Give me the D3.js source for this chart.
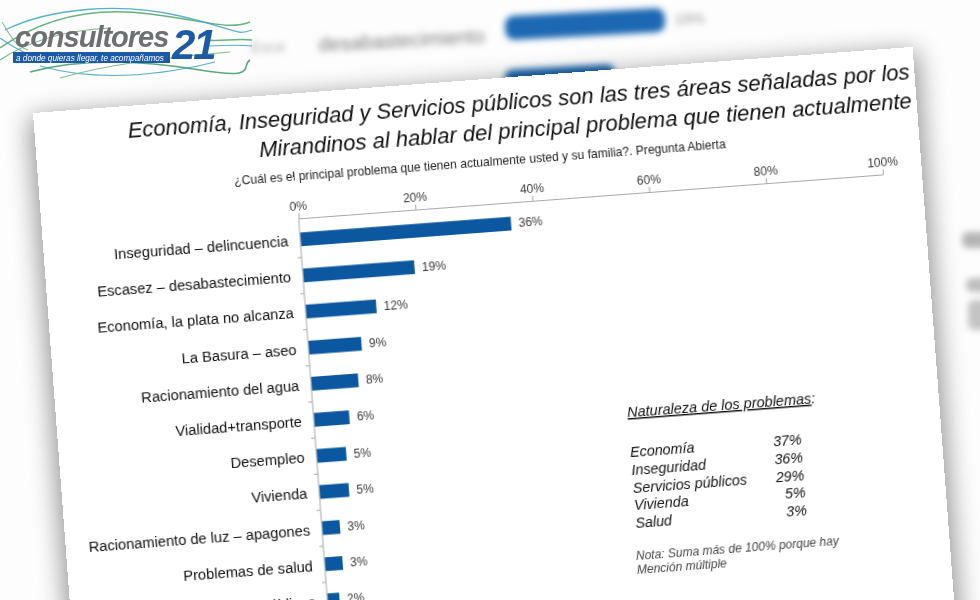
<!DOCTYPE html>
<html><head><meta charset="utf-8">
<script src="https://cdn.jsdelivr.net/npm/d3@7"></script>
<style>
body{margin:0;background:#fff}
svg{display:block}
text{font-family:"Liberation Sans",Arial,Helvetica,sans-serif}
</style></head>
<body><div id="chart"></div>
<script>
// ---------- DATA ----------
const categories = [
  "Inseguridad – delincuencia",
  "Escasez – desabastecimiento",
  "Economía, la plata no alcanza",
  "La Basura – aseo",
  "Racionamiento del agua",
  "Vialidad+transporte",
  "Desempleo",
  "Vivienda",
  "Racionamiento de luz – apagones",
  "Problemas de salud",
  "Otros servicios públicos"
];
const values = [36, 19, 12, 9, 8, 6, 5, 5, 3, 3, 2];
const xTicks = [0, 20, 40, 60, 80, 100];
const summaryLabels = ["Economía", "Inseguridad", "Servicios públicos", "Vivienda", "Salud"];
const summaryValues = [37, 36, 29, 5, 3];
const titleLines = [
  "Economía, Inseguridad y Servicios públicos son las tres áreas señaladas por los",
  "Mirandinos al hablar del principal problema que tienen actualmente"
];
const subtitle = "¿Cuál es el principal problema que tienen actualmente usted y su familia?. Pregunta Abierta";
const summaryTitle = "Naturaleza de los problemas";
const noteLines = ["Nota: Suma más de 100% porque hay", "Mención múltiple"];

// ---------- SETUP ----------
const W = 980, H = 600;
const svg = d3.select("#chart").append("svg").attr("width", W).attr("height", H);
const defs = svg.append("defs");
defs.append("filter").attr("id", "bgblur")
  .attr("x", "-30%").attr("y", "-80%").attr("width", "160%").attr("height", "260%")
  .append("feGaussianBlur").attr("stdDeviation", 3.2);
defs.append("filter").attr("id", "shadow")
  .attr("x", "-20%").attr("y", "-20%").attr("width", "140%").attr("height", "140%")
  .append("feGaussianBlur").attr("stdDeviation", 13);

svg.append("rect").attr("width", W).attr("height", H).attr("fill", "#fdfdfd");

// ---------- blurred background (enlarged slide behind) ----------
const bg = svg.append("g").attr("filter", "url(#bgblur)");
bg.append("rect").attr("transform", "translate(585,24) rotate(-3)")
  .attr("x", -80).attr("y", -12).attr("width", 160).attr("height", 24).attr("rx", 9)
  .attr("fill", "#1a67b2");
bg.append("rect").attr("transform", "translate(560,78) rotate(-3)")
  .attr("x", -55).attr("y", -11).attr("width", 110).attr("height", 22).attr("rx", 8)
  .attr("fill", "#1a67b2");
bg.append("text").attr("transform", "translate(402,47) rotate(-3)")
  .attr("text-anchor", "middle").attr("font-size", 20).attr("fill", "#7e7e7e")
  .text("desabastecimiento");
bg.append("text").attr("transform", "translate(690,24) rotate(-3)")
  .attr("text-anchor", "middle").attr("font-size", 15).attr("fill", "#999")
  .text("19%");
bg.append("text").attr("transform", "translate(268,52) rotate(-3)")
  .attr("text-anchor", "middle").attr("font-size", 15).attr("fill", "#b0b0b0")
  .text("Esca");
bg.append("rect").attr("x", 962).attr("y", 232).attr("width", 30).attr("height", 16).attr("rx", 6).attr("fill", "#b5b5b5");
bg.append("rect").attr("x", 966).attr("y", 278).attr("width", 30).attr("height", 14).attr("rx", 6).attr("fill", "#bdbdbd");
bg.append("rect").attr("x", 968).attr("y", 300).attr("width", 30).attr("height", 30).attr("rx", 6).attr("fill", "#c4c4c4");

// ---------- logo ----------
const logo = svg.append("g");
const swirls = [
  ["M0,48 C40,20 90,6 150,14 S230,30 250,22", "#4da46a", 1.5],
  ["M5,30 C50,8 120,2 180,16 S235,36 252,30", "#3aa3c6", 1.3],
  ["M0,60 C30,40 70,30 110,28", "#5fae70", 1.2],
  ["M0,38 C20,52 40,62 70,62", "#3aa3c6", 1.1],
  ["M30,72 C80,58 140,60 200,70 S240,66 250,60", "#3d9a62", 1.6],
  ["M40,66 C90,80 150,78 215,62", "#3aa3c6", 1.2],
  ["M60,78 C110,64 160,58 230,52", "#6cb37c", 1.1],
  ["M205,40 C220,42 235,38 252,40", "#4da46a", 1.3],
  ["M205,46 C222,46 236,44 252,46", "#3aa3c6", 1.1],
  ["M2,22 C10,35 14,45 28,50", "#6cb37c", 1.1]
];
logo.selectAll("path.sw").data(swirls).join("path")
  .attr("d", d => d[0]).attr("fill", "none").attr("stroke", d => d[1])
  .attr("stroke-width", d => d[2]).attr("opacity", 0.85);
logo.append("rect").attr("x", 13).attr("y", 52).attr("width", 157).attr("height", 11).attr("fill", "#1d5aa6");
logo.append("text").attr("x", 16).attr("y", 60.5).attr("font-size", 8.2).attr("font-style", "italic")
  .attr("fill", "#fff").text("a donde quieras llegar, te acompañamos");
logo.append("text").attr("x", 15).attr("y", 47).attr("font-size", 29).attr("font-weight", "bold")
  .attr("font-style", "italic").attr("fill", "#6e6f72").attr("letter-spacing", -1).text("consultores");
logo.append("text").attr("x", 172).attr("y", 59).attr("font-size", 42).attr("font-weight", "bold")
  .attr("font-style", "italic").attr("fill", "#1d5aa6").attr("letter-spacing", -2).text("21");

// ---------- rotated slide ----------
const slide = svg.append("g").attr("transform", "translate(33,113) rotate(-4.3)");
slide.append("rect").attr("x", -4).attr("y", 4).attr("width", 890).attr("height", 700)
  .attr("fill", "#000").attr("opacity", 0.42).attr("filter", "url(#shadow)");
slide.append("rect").attr("x", 0).attr("y", 0).attr("width", 882).attr("height", 700)
  .attr("fill", "#fff");

// title
slide.selectAll("text.title").data(titleLines).join("text")
  .attr("class", "title")
  .attr("x", 877).attr("y", (d, i) => 32 + i * 29)
  .attr("text-anchor", "end").attr("font-size", 22).attr("font-style", "italic")
  .attr("fill", "#111").text(d => d);

slide.append("text").attr("x", 442).attr("y", 87).attr("text-anchor", "middle")
  .attr("font-size", 12.1).attr("fill", "#222").text(subtitle);

// scales
const x = d3.scaleLinear().domain([0, 100]).range([257, 843]);
const y = d3.scaleBand().domain(categories).range([128, 128 + categories.length * 36.2])
  .paddingInner(0.62).paddingOuter(0.31);

// top axis
const xAxis = slide.append("g").attr("transform", "translate(0,125)")
  .call(d3.axisTop(x).tickValues(xTicks).tickFormat(d => d + "%").tickSize(5).tickSizeOuter(0));
xAxis.select(".domain").attr("stroke", "#a8a8a8");
xAxis.selectAll(".tick line").attr("stroke", "#a8a8a8");
xAxis.selectAll(".tick text").attr("font-size", 12).attr("fill", "#3a3a3a")
  .attr("font-family", "Liberation Sans, Arial, sans-serif");

// left axis line with boundary ticks
const step = y.step();
const bounds = categories.map(c => y(c) - step * y.paddingInner() / 2)
  .concat([y(categories[categories.length - 1]) + y.bandwidth() + step * y.paddingInner() / 2]);
slide.append("line").attr("x1", x(0)).attr("x2", x(0)).attr("y1", 125).attr("y2", bounds[bounds.length - 1])
  .attr("stroke", "#a8a8a8");
slide.selectAll("line.yt").data(bounds.slice(1)).join("line").attr("class", "yt")
  .attr("x1", x(0) - 4).attr("x2", x(0)).attr("y1", d => d).attr("y2", d => d)
  .attr("stroke", "#a8a8a8");

// bars
slide.selectAll("rect.bar").data(categories).join("rect").attr("class", "bar")
  .attr("x", x(0) + 0.5).attr("y", d => y(d))
  .attr("width", (d, i) => x(values[i]) - x(0)).attr("height", y.bandwidth())
  .attr("fill", "#0b58a0");

// value labels
slide.selectAll("text.val").data(categories).join("text").attr("class", "val")
  .attr("x", (d, i) => x(values[i]) + 8).attr("y", d => y(d) + y.bandwidth() / 2)
  .attr("dy", "0.36em").attr("font-size", 12).attr("fill", "#3a3a3a")
  .text((d, i) => values[i] + "%");

// category labels
slide.selectAll("text.cat").data(categories).join("text").attr("class", "cat")
  .attr("x", x(0) - 12).attr("y", d => y(d) + y.bandwidth() / 2)
  .attr("dy", "0.4em").attr("text-anchor", "end").attr("font-size", 14.7).attr("fill", "#111")
  .text(d => d);

// summary box
const st = slide.append("text").attr("x", 570).attr("y", 348).attr("font-size", 14.5)
  .attr("font-style", "italic").attr("fill", "#111");
st.append("tspan").attr("text-decoration", "underline").text(summaryTitle);
st.append("tspan").text(":");

slide.selectAll("text.sl").data(summaryLabels).join("text").attr("class", "sl")
  .attr("x", 570).attr("y", (d, i) => 388 + i * 17.8)
  .attr("font-size", 14.3).attr("font-style", "italic").attr("fill", "#111").text(d => d);
slide.selectAll("text.sv").data(summaryValues).join("text").attr("class", "sv")
  .attr("x", 742).attr("y", (d, i) => 388 + i * 17.8).attr("text-anchor", "end")
  .attr("font-size", 14.3).attr("font-style", "italic").attr("fill", "#111").text(d => d + "%");

slide.selectAll("text.note").data(noteLines).join("text").attr("class", "note")
  .attr("x", 568).attr("y", (d, i) => 491 + i * 14)
  .attr("font-size", 12).attr("font-style", "italic").attr("fill", "#444").text(d => d);
</script>
</body></html>
